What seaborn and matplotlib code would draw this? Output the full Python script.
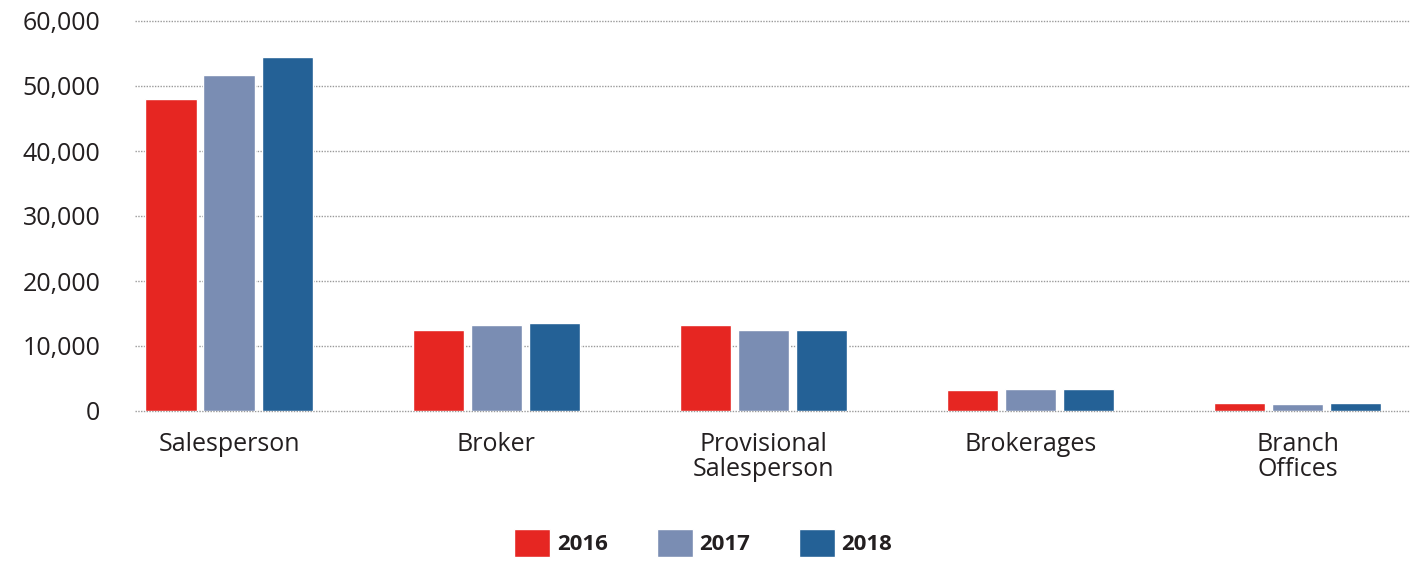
import matplotlib
matplotlib.use("Agg")
import matplotlib.pyplot as plt
import seaborn as sns
import pandas as pd

categories = ["Salesperson", "Broker", "Provisional\nSalesperson", "Brokerages", "Branch\nOffices"]
years = ["2016", "2017", "2018"]
values_2016 = [48000, 12500, 13200, 3200, 1200]
values_2017 = [51700, 13200, 12500, 3400, 1100]
values_2018 = [54500, 13500, 12500, 3400, 1200]
yticks = [0, 10000, 20000, 30000, 40000, 50000, 60000]
colors = ["#e62622", "#7a8db3", "#246196"]

rows = []
for yr, vals in zip(years, [values_2016, values_2017, values_2018]):
    for c, v in zip(categories, vals):
        rows.append({"category": c, "year": yr, "value": v})
df = pd.DataFrame(rows)

sns.set_style("white")
plt.rcParams["font.family"] = ["Open Sans", "DejaVu Sans"]

fig = plt.figure(figsize=(14.15, 5.63), dpi=100)
ax = fig.add_axes([135/1415, 1-411/563, (1410-135)/1415, 390/563])

sns.barplot(data=df, x="category", y="value", hue="year", order=categories,
            hue_order=years, palette=colors, width=0.652, gap=0.12,
            saturation=1, ax=ax, errorbar=None, zorder=3)

ax.set_xlim(-0.352, 4.42)
ax.set_ylim(0, 60000)
ax.set_yticks(yticks)
ax.set_yticklabels([f"{v:,}" for v in yticks])
ax.yaxis.grid(True, linestyle=(0, (1, 1)), color="#9a9a9a", linewidth=1.0, zorder=0)
ax.xaxis.grid(False)
for s in ax.spines.values():
    s.set_visible(False)
ax.set_xlabel("")
ax.set_ylabel("")
ax.tick_params(axis="y", length=0, pad=25, labelsize=18, labelcolor="#231f20")
ax.tick_params(axis="x", length=0, pad=15, labelsize=18, labelcolor="#231f20")
for t in ax.get_xticklabels():
    t.set_linespacing(1.0)
for gl in ax.get_ygridlines():
    gl.set_clip_on(False)

handles, labels = ax.get_legend_handles_labels()
ax.get_legend().remove()
fig.legend(handles, labels, loc="center", bbox_to_anchor=(0.497, 1-543/563),
           ncol=3, frameon=False, handlelength=1.62, handleheight=1.62,
           handletextpad=0.3, columnspacing=2.2,
           prop={"weight": "bold", "size": 16})
for t in fig.legends[0].get_texts():
    t.set_color("#231f20")

fig.savefig("out.png", dpi=100)
